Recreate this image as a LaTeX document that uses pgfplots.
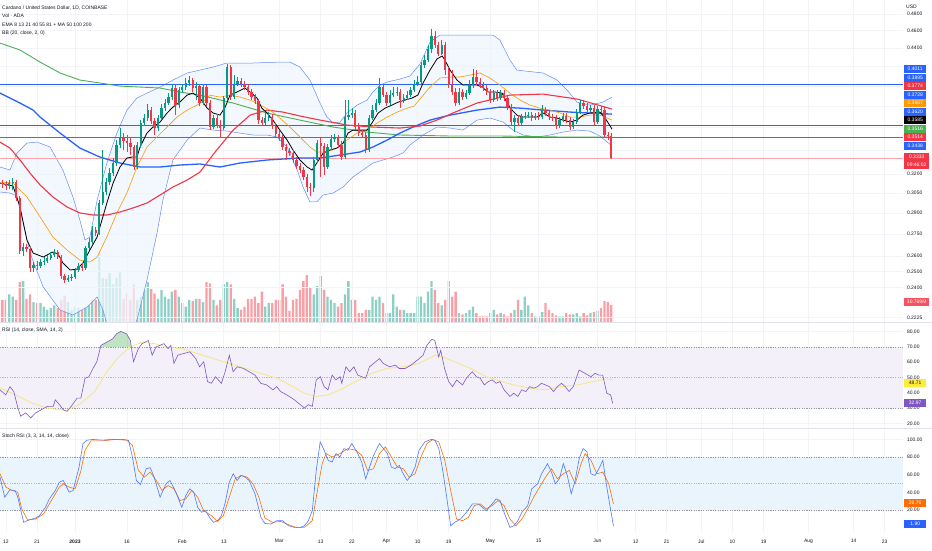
\documentclass[border=0pt]{standalone}
\usepackage{pgfplots}
\pgfplotsset{compat=1.18}
\usepackage{pgfplotstable}
\usepackage{fontspec}
\setmainfont{Liberation Sans}
\definecolor{cgreen}{RGB}{8,153,129}
\definecolor{cred}{RGB}{242,54,69}
\definecolor{vgreen}{RGB}{140,208,197}
\definecolor{vred}{RGB}{249,160,167}
\definecolor{hblue}{RGB}{41,98,255}
\definecolor{corange}{RGB}{255,152,0}
\definecolor{cgreenl}{RGB}{76,175,80}
\definecolor{bbline}{RGB}{100,140,245}
\definecolor{bbfill}{RGB}{238,245,253}
\definecolor{rsiline}{RGB}{126,87,194}
\definecolor{rsisma}{RGB}{245,230,130}
\definecolor{rsiband}{RGB}{243,240,250}
\definecolor{stband}{RGB}{233,244,253}
\definecolor{kblue}{RGB}{80,120,255}
\definecolor{dorange}{RGB}{255,109,0}
\definecolor{gridc}{RGB}{243,244,248}
\definecolor{dashc}{RGB}{150,153,160}
\definecolor{txtc}{RGB}{19,23,34}
\definecolor{sepc}{RGB}{224,227,235}
\definecolor{lblred}{RGB}{247,82,95}
\definecolor{lblyellow}{RGB}{255,235,59}
\newcommand{\sm}{\fontsize{5}{6}\selectfont}

\pgfplotstableread[row sep=\\]{
d o h l c v\\
-22 0.3144 0.3168 0.3097 0.3128 35\\
-21 0.3128 0.3152 0.3089 0.3120 40\\
-20 0.3120 0.3144 0.3073 0.3105 40\\
-19 0.3105 0.3152 0.3081 0.3128 50\\
-18 0.3128 0.3168 0.3073 0.3136 46\\
-17 0.3136 0.3152 0.2989 0.3012 40\\
-16 0.3012 0.3027 0.2614 0.2633 72\\
-15 0.2633 0.2688 0.2600 0.2660 74\\
-14 0.2660 0.2681 0.2627 0.2647 42\\
-13 0.2647 0.2660 0.2497 0.2523 50\\
-12 0.2523 0.2561 0.2497 0.2542 36\\
-11 0.2542 0.2567 0.2510 0.2536 34\\
-10 0.2536 0.2581 0.2523 0.2561 34\\
-9 0.2561 0.2594 0.2542 0.2567 28\\
-8 0.2567 0.2607 0.2555 0.2587 22\\
-7 0.2587 0.2627 0.2574 0.2607 25\\
-6 0.2607 0.2647 0.2594 0.2627 30\\
-5 0.2627 0.2640 0.2581 0.2594 25\\
-4 0.2594 0.2607 0.2453 0.2472 40\\
-3 0.2472 0.2485 0.2429 0.2447 48\\
-2 0.2447 0.2478 0.2435 0.2459 36\\
-1 0.2459 0.2485 0.2441 0.2466 22\\
0 0.2466 0.2523 0.2453 0.2510 28\\
1 0.2510 0.2555 0.2497 0.2536 25\\
2 0.2536 0.2555 0.2504 0.2523 22\\
3 0.2523 0.2667 0.2510 0.2654 26\\
4 0.2654 0.2722 0.2640 0.2695 30\\
5 0.2695 0.2806 0.2681 0.2777 40\\
6 0.2777 0.2799 0.2735 0.2756 40\\
7 0.2756 0.2997 0.2742 0.2974 125\\
8 0.2974 0.3401 0.2959 0.3058 80\\
9 0.3058 0.3168 0.3035 0.3136 78\\
10 0.3136 0.3250 0.3113 0.3208 88\\
11 0.3208 0.3333 0.3184 0.3291 68\\
12 0.3291 0.3488 0.3266 0.3444 80\\
13 0.3444 0.3596 0.3418 0.3515 90\\
14 0.3515 0.3550 0.3401 0.3479 42\\
15 0.3479 0.3533 0.3384 0.3462 52\\
16 0.3462 0.3506 0.3358 0.3427 40\\
17 0.3427 0.3444 0.3233 0.3258 68\\
18 0.3258 0.3470 0.3241 0.3444 40\\
19 0.3444 0.3669 0.3418 0.3641 45\\
20 0.3641 0.3725 0.3614 0.3688 58\\
21 0.3688 0.3821 0.3660 0.3763 72\\
22 0.3763 0.3792 0.3632 0.3660 60\\
23 0.3660 0.3688 0.3533 0.3596 52\\
24 0.3596 0.3716 0.3568 0.3688 42\\
25 0.3688 0.3821 0.3669 0.3782 58\\
26 0.3782 0.3870 0.3754 0.3831 46\\
27 0.3831 0.3929 0.3811 0.3889 42\\
28 0.3889 0.4019 0.3860 0.3979 55\\
29 0.3979 0.4009 0.3716 0.3811 58\\
30 0.3811 0.3989 0.3782 0.3959 46\\
31 0.3959 0.4019 0.3929 0.3989 34\\
32 0.3989 0.4081 0.3959 0.4030 28\\
33 0.4030 0.4102 0.3999 0.4060 40\\
34 0.4060 0.4081 0.3939 0.3979 38\\
35 0.3979 0.4040 0.3860 0.3999 42\\
36 0.3999 0.4019 0.3801 0.3831 42\\
37 0.3831 0.4019 0.3811 0.3989 36\\
38 0.3989 0.4009 0.3801 0.3831 72\\
39 0.3831 0.3860 0.3577 0.3605 70\\
40 0.3605 0.3716 0.3586 0.3688 40\\
41 0.3688 0.3725 0.3596 0.3623 30\\
42 0.3623 0.3669 0.3506 0.3596 40\\
43 0.3596 0.3899 0.3577 0.3880 68\\
44 0.3880 0.4228 0.3860 0.4196 72\\
45 0.4196 0.4217 0.3860 0.3889 68\\
46 0.3889 0.4112 0.3870 0.4019 42\\
47 0.4019 0.4091 0.3999 0.4050 25\\
48 0.4050 0.4081 0.3989 0.4019 22\\
49 0.4019 0.4050 0.3959 0.3989 28\\
50 0.3989 0.4019 0.3909 0.3939 42\\
51 0.3939 0.3969 0.3860 0.3889 42\\
52 0.3889 0.3919 0.3821 0.3850 46\\
53 0.3850 0.3870 0.3632 0.3669 34\\
54 0.3669 0.3697 0.3614 0.3641 55\\
55 0.3641 0.3735 0.3623 0.3688 28\\
56 0.3688 0.3744 0.3660 0.3697 34\\
57 0.3697 0.3725 0.3586 0.3614 34\\
58 0.3614 0.3641 0.3515 0.3541 40\\
59 0.3541 0.3577 0.3479 0.3506 40\\
60 0.3506 0.3533 0.3401 0.3427 68\\
61 0.3427 0.3453 0.3316 0.3392 46\\
62 0.3392 0.3418 0.3350 0.3375 20\\
63 0.3375 0.3401 0.3291 0.3316 40\\
64 0.3316 0.3341 0.3241 0.3266 42\\
65 0.3266 0.3291 0.3208 0.3233 58\\
66 0.3233 0.3258 0.3152 0.3176 74\\
67 0.3176 0.3200 0.3058 0.3097 85\\
68 0.3097 0.3128 0.3027 0.3089 62\\
69 0.3089 0.3341 0.3058 0.3316 50\\
70 0.3316 0.3488 0.3291 0.3462 65\\
71 0.3462 0.3506 0.3176 0.3435 83\\
72 0.3435 0.3462 0.3192 0.3258 58\\
73 0.3258 0.3453 0.3241 0.3427 46\\
74 0.3427 0.3533 0.3401 0.3497 40\\
75 0.3497 0.3541 0.3470 0.3506 34\\
76 0.3506 0.3533 0.3418 0.3444 28\\
77 0.3444 0.3479 0.3316 0.3341 34\\
78 0.3341 0.3860 0.3325 0.3697 50\\
79 0.3697 0.3860 0.3669 0.3716 74\\
80 0.3716 0.3782 0.3688 0.3735 40\\
81 0.3735 0.3763 0.3577 0.3605 40\\
82 0.3605 0.3641 0.3524 0.3550 16\\
83 0.3550 0.3577 0.3506 0.3533 16\\
84 0.3533 0.3559 0.3375 0.3401 22\\
85 0.3401 0.3716 0.3384 0.3688 22\\
86 0.3688 0.3811 0.3669 0.3763 46\\
87 0.3763 0.3870 0.3744 0.3831 40\\
88 0.3831 0.4081 0.3811 0.3989 46\\
89 0.3989 0.4019 0.3889 0.3909 34\\
90 0.3909 0.3939 0.3801 0.3831 16\\
91 0.3831 0.3959 0.3811 0.3909 16\\
92 0.3909 0.3989 0.3889 0.3929 50\\
93 0.3929 0.3989 0.3899 0.3939 28\\
94 0.3939 0.3969 0.3782 0.3860 22\\
95 0.3860 0.3919 0.3831 0.3880 22\\
96 0.3880 0.3949 0.3860 0.3909 16\\
97 0.3909 0.3989 0.3889 0.3959 16\\
98 0.3959 0.4060 0.3939 0.4019 16\\
99 0.4019 0.4102 0.3999 0.4040 46\\
100 0.4040 0.4249 0.4019 0.4217 46\\
101 0.4217 0.4326 0.4185 0.4271 34\\
102 0.4271 0.4436 0.4249 0.4391 55\\
103 0.4391 0.4620 0.4348 0.4539 74\\
104 0.4539 0.4596 0.4402 0.4436 58\\
105 0.4436 0.4470 0.4315 0.4337 34\\
106 0.4337 0.4493 0.4326 0.4436 30\\
107 0.4436 0.4470 0.4112 0.4164 40\\
108 0.4164 0.4196 0.3979 0.4009 74\\
109 0.4009 0.4164 0.3909 0.3939 46\\
110 0.3939 0.3979 0.3801 0.3831 55\\
111 0.3831 0.3979 0.3811 0.3939 16\\
112 0.3939 0.3969 0.3860 0.3889 14\\
113 0.3889 0.3959 0.3870 0.3929 16\\
114 0.3929 0.4060 0.3909 0.4009 22\\
115 0.4009 0.4174 0.3979 0.4091 28\\
116 0.4091 0.4164 0.4009 0.4040 16\\
117 0.4040 0.4081 0.3979 0.4009 10\\
118 0.4009 0.4040 0.3949 0.3979 10\\
119 0.3979 0.4009 0.3909 0.3939 10\\
120 0.3939 0.3969 0.3831 0.3860 16\\
121 0.3860 0.3959 0.3840 0.3929 22\\
122 0.3929 0.3959 0.3850 0.3880 14\\
123 0.3880 0.3959 0.3860 0.3929 16\\
124 0.3929 0.3959 0.3850 0.3880 14\\
125 0.3880 0.3909 0.3763 0.3792 10\\
126 0.3792 0.3821 0.3614 0.3651 16\\
127 0.3651 0.3716 0.3559 0.3688 22\\
128 0.3688 0.3716 0.3614 0.3641 40\\
129 0.3641 0.3725 0.3614 0.3697 22\\
130 0.3697 0.3744 0.3678 0.3707 46\\
131 0.3707 0.3744 0.3688 0.3716 30\\
132 0.3716 0.3744 0.3660 0.3688 16\\
133 0.3688 0.3735 0.3669 0.3707 10\\
134 0.3707 0.3744 0.3669 0.3697 10\\
135 0.3697 0.3811 0.3678 0.3763 18\\
136 0.3763 0.3792 0.3707 0.3735 34\\
137 0.3735 0.3763 0.3669 0.3697 22\\
138 0.3697 0.3725 0.3660 0.3688 16\\
139 0.3688 0.3716 0.3586 0.3614 12\\
140 0.3614 0.3697 0.3596 0.3669 10\\
141 0.3669 0.3735 0.3651 0.3707 10\\
142 0.3707 0.3735 0.3641 0.3669 16\\
143 0.3669 0.3697 0.3577 0.3605 14\\
144 0.3605 0.3678 0.3586 0.3651 14\\
145 0.3651 0.3773 0.3632 0.3744 16\\
146 0.3744 0.3860 0.3725 0.3831 10\\
147 0.3831 0.3860 0.3773 0.3801 16\\
148 0.3801 0.3831 0.3735 0.3763 12\\
149 0.3763 0.3811 0.3744 0.3782 16\\
150 0.3782 0.3811 0.3623 0.3651 18\\
151 0.3651 0.3801 0.3632 0.3773 20\\
152 0.3773 0.3801 0.3735 0.3763 25\\
153 0.3763 0.3792 0.3515 0.3533 38\\
154 0.3533 0.3559 0.3488 0.3524 36\\
155 0.3524 0.3550 0.3325 0.3333 30.77\\
}\ohlc

\pgfplotstableread[row sep=\\]{
d p\\
-21.7 0.3128\\ -17.9 0.3105\\ -15.9 0.2944\\ -13.9 0.2708\\ -12.1 0.2620\\ -9.2 0.2594\\
-6.4 0.2627\\ -4.9 0.2614\\ -3.5 0.2555\\ -1.4 0.2510\\ 0.6 0.2516\\ 2.3 0.2555\\
4.3 0.2640\\ 6.4 0.2729\\ 7.2 0.2799\\ 9.2 0.2974\\ 11.0 0.3128\\ 13.0 0.3258\\
15.0 0.3333\\ 16.5 0.3341\\ 17.9 0.3341\\ 18.8 0.3427\\ 20.8 0.3550\\ 22.5 0.3605\\
24.6 0.3651\\ 26.6 0.3735\\ 28.3 0.3792\\ 30.3 0.3840\\ 32.4 0.3909\\ 34.1 0.3929\\
36.1 0.3880\\ 38.2 0.3782\\ 39.9 0.3735\\ 41.9 0.3716\\ 43.4 0.3792\\ 44.8 0.3909\\
46.8 0.3939\\ 49.1 0.3979\\ 50.6 0.3939\\ 52.6 0.3880\\ 54.0 0.3782\\ 55.5 0.3735\\
57.2 0.3669\\ 59.2 0.3577\\ 61.3 0.3488\\ 63.0 0.3401\\ 65.0 0.3316\\ 67.1 0.3258\\
68.5 0.3233\\ 69.9 0.3291\\ 71.7 0.3375\\ 73.7 0.3401\\ 75.7 0.3418\\ 77.5 0.3462\\
78.9 0.3550\\ 80.3 0.3577\\ 82.4 0.3577\\ 84.4 0.3577\\ 85.8 0.3641\\ 87.6 0.3735\\
89.6 0.3782\\ 91.6 0.3811\\ 93.4 0.3840\\ 95.4 0.3860\\ 97.4 0.3880\\ 99.1 0.3909\\
100.6 0.4030\\ 102.6 0.4164\\ 104.6 0.4282\\ 106.1 0.4315\\ 106.9 0.4271\\ 108.4 0.4164\\
110.4 0.4060\\ 112.1 0.4009\\ 114.2 0.4009\\ 116.2 0.4009\\ 117.6 0.3989\\ 119.4 0.3939\\
121.4 0.3939\\ 123.4 0.3929\\ 124.9 0.3831\\ 126.3 0.3763\\ 127.7 0.3716\\ 129.5 0.3697\\
131.5 0.3697\\ 133.5 0.3697\\ 135.3 0.3735\\ 137.3 0.3697\\ 139.3 0.3688\\ 141.0 0.3669\\
143.1 0.3651\\ 145.1 0.3669\\ 146.8 0.3716\\ 148.8 0.3735\\ 151.7 0.3744\\ 153.2 0.3688\\
154.3 0.3632\\ 155.2 0.3586\\
}\blk

\pgfplotstableread[row sep=\\]{
d p\\
-21.7 0.3136\\ -17.9 0.3128\\ -13.9 0.3020\\ -10.1 0.2871\\ -6.4 0.2729\\ -2.3 0.2640\\
1.4 0.2574\\ 4.3 0.2561\\ 6.4 0.2594\\ 9.2 0.2729\\ 12.1 0.2900\\ 15.0 0.3050\\
17.9 0.3258\\ 20.8 0.3427\\ 23.7 0.3515\\ 26.6 0.3605\\ 29.5 0.3697\\ 32.4 0.3763\\
35.3 0.3811\\ 37.6 0.3860\\ 39.0 0.3909\\ 41.9 0.3889\\ 44.8 0.3909\\ 47.7 0.3889\\
50.6 0.3860\\ 53.5 0.3811\\ 56.4 0.3763\\ 59.2 0.3688\\ 62.1 0.3605\\ 65.0 0.3515\\
67.9 0.3427\\ 69.9 0.3384\\ 72.8 0.3384\\ 75.7 0.3418\\ 78.6 0.3488\\ 81.5 0.3550\\
84.4 0.3577\\ 87.3 0.3641\\ 90.2 0.3697\\ 93.1 0.3744\\ 96.0 0.3782\\ 98.0 0.3801\\
99.7 0.3870\\ 102.6 0.3989\\ 105.5 0.4081\\ 108.4 0.4091\\ 111.3 0.4091\\ 114.2 0.4112\\
117.1 0.4133\\ 119.9 0.4081\\ 122.8 0.4009\\ 125.7 0.3929\\ 128.6 0.3860\\ 131.5 0.3811\\
134.4 0.3782\\ 137.3 0.3763\\ 140.2 0.3735\\ 143.1 0.3697\\ 146.0 0.3697\\ 148.8 0.3716\\
151.7 0.3716\\ 155.2 0.3669\\
}\org

\pgfplotstableread[row sep=\\]{
d p\\
-21.7 0.3470\\ -18.8 0.3418\\ -15.9 0.3316\\ -13.0 0.3208\\ -10.1 0.3113\\ -6.4 0.3020\\
-2.3 0.2944\\ 1.4 0.2900\\ 5.2 0.2885\\ 9.2 0.2885\\ 13.0 0.2907\\ 16.8 0.2937\\
20.8 0.2974\\ 24.6 0.3035\\ 28.3 0.3097\\ 32.4 0.3152\\ 36.1 0.3216\\ 40.5 0.3384\\
45.7 0.3577\\ 50.6 0.3716\\ 55.5 0.3763\\ 60.1 0.3744\\ 65.0 0.3707\\ 70.8 0.3669\\
78.6 0.3623\\ 86.1 0.3605\\ 93.9 0.3596\\ 99.7 0.3614\\ 104.6 0.3669\\ 109.2 0.3735\\
116.2 0.3831\\ 125.7 0.3909\\ 135.3 0.3919\\ 145.1 0.3870\\ 155.2 0.3773\\
}\redl

\pgfplotstableread[row sep=\\]{
d p\\
-21.7 0.3929\\ -15.9 0.3831\\ -12.1 0.3763\\ -10.1 0.3697\\ -4.3 0.3550\\ 1.4 0.3418\\
7.2 0.3341\\ 13.0 0.3291\\ 18.8 0.3258\\ 24.6 0.3258\\ 30.3 0.3274\\ 36.1 0.3283\\
41.9 0.3258\\ 47.7 0.3291\\ 55.5 0.3316\\ 65.0 0.3333\\ 70.8 0.3333\\ 76.6 0.3358\\
82.4 0.3384\\ 86.1 0.3427\\ 90.2 0.3488\\ 93.9 0.3550\\ 97.7 0.3605\\ 102.6 0.3669\\
108.4 0.3716\\ 116.2 0.3763\\ 122.8 0.3792\\ 128.6 0.3782\\ 135.3 0.3763\\ 143.1 0.3744\\
148.8 0.3735\\ 155.2 0.3725\\
}\bluel

\pgfplotstableread[row sep=\\]{
d p\\
-21.7 0.4459\\ -15.9 0.4381\\ -10.1 0.4249\\ -4.3 0.4133\\ 1.4 0.4060\\ 7.2 0.4030\\
13.0 0.3999\\ 18.8 0.3989\\ 24.6 0.3979\\ 30.3 0.3939\\ 36.1 0.3909\\ 45.7 0.3831\\
55.5 0.3735\\ 65.0 0.3669\\ 74.6 0.3605\\ 84.4 0.3559\\ 93.9 0.3533\\ 108.4 0.3524\\
122.8 0.3524\\ 140.2 0.3515\\ 155.2 0.3515\\
}\grnl

\pgfplotstableread[row sep=\\]{
d p\\
-21.7 0.3258\\ -18.8 0.3233\\ -16.8 0.3375\\ -13.9 0.3462\\ -11.0 0.3470\\ -7.2 0.3427\\
-3.5 0.3233\\ -0.6 0.3020\\ 1.4 0.2849\\ 2.9 0.2708\\ 4.3 0.2729\\ 6.4 0.2997\\
9.2 0.3291\\ 12.1 0.3550\\ 15.0 0.3763\\ 17.9 0.3880\\ 20.8 0.3929\\ 24.6 0.3989\\
28.3 0.4060\\ 32.4 0.4133\\ 36.1 0.4164\\ 39.9 0.4196\\ 43.9 0.4239\\ 51.4 0.4239\\
59.2 0.4249\\ 62.1 0.4249\\ 65.0 0.4196\\ 67.9 0.4060\\ 70.8 0.3831\\ 72.8 0.3697\\
74.6 0.3641\\ 76.6 0.3651\\ 78.6 0.3735\\ 81.5 0.3811\\ 84.4 0.3860\\ 86.1 0.3939\\
88.2 0.4009\\ 90.2 0.4040\\ 93.9 0.4070\\ 96.8 0.4102\\ 99.7 0.4228\\ 102.6 0.4470\\
105.5 0.4550\\ 120.8 0.4550\\ 122.8 0.4493\\ 125.7 0.4271\\ 127.7 0.4164\\ 135.3 0.4133\\
139.3 0.4060\\ 142.2 0.3959\\ 145.1 0.3840\\ 148.8 0.3811\\ 152.6 0.3840\\ 155.2 0.3889\\
}\bbu

\pgfplotstableread[row sep=\\]{
d p\\
-21.7 0.3058\\ -18.8 0.3050\\ -16.8 0.3027\\ -13.0 0.2620\\ -9.2 0.2404\\ -4.3 0.2268\\
-0.6 0.2240\\ 3.5 0.2285\\ 6.4 0.2344\\ 8.1 0.2268\\ 10.1 0.2129\\ 13.0 0.2076\\
15.9 0.2129\\ 17.9 0.2211\\ 20.8 0.2447\\ 23.7 0.2756\\ 25.4 0.2997\\ 28.3 0.3316\\
32.4 0.3488\\ 36.1 0.3596\\ 39.9 0.3577\\ 43.9 0.3568\\ 47.7 0.3550\\ 51.4 0.3533\\
55.5 0.3533\\ 58.4 0.3515\\ 61.3 0.3427\\ 64.2 0.3233\\ 65.9 0.3097\\ 67.9 0.2982\\
69.9 0.2982\\ 71.7 0.3035\\ 74.6 0.3050\\ 77.5 0.3097\\ 80.3 0.3176\\ 83.2 0.3233\\
86.1 0.3291\\ 89.0 0.3316\\ 91.9 0.3341\\ 94.8 0.3375\\ 96.8 0.3444\\ 100.6 0.3533\\
104.6 0.3605\\ 108.4 0.3596\\ 112.1 0.3577\\ 116.2 0.3669\\ 119.9 0.3688\\ 123.7 0.3651\\
126.6 0.3577\\ 129.5 0.3533\\ 133.5 0.3515\\ 137.3 0.3533\\ 141.0 0.3559\\ 145.1 0.3577\\
148.8 0.3568\\ 151.7 0.3524\\ 155.2 0.3435\\
}\bbl

% Bollinger band area outline: upper band forward, lower band back
\pgfplotstableread[row sep=\\]{
d p\\
-21.7 0.3258\\ -18.8 0.3233\\ -16.8 0.3375\\ -13.9 0.3462\\ -11.0 0.3470\\ -7.2 0.3427\\
-3.5 0.3233\\ -0.6 0.3020\\ 1.4 0.2849\\ 2.9 0.2708\\ 4.3 0.2729\\ 6.4 0.2997\\
9.2 0.3291\\ 12.1 0.3550\\ 15.0 0.3763\\ 17.9 0.3880\\ 20.8 0.3929\\ 24.6 0.3989\\
28.3 0.4060\\ 32.4 0.4133\\ 36.1 0.4164\\ 39.9 0.4196\\ 43.9 0.4239\\ 51.4 0.4239\\
59.2 0.4249\\ 62.1 0.4249\\ 65.0 0.4196\\ 67.9 0.4060\\ 70.8 0.3831\\ 72.8 0.3697\\
74.6 0.3641\\ 76.6 0.3651\\ 78.6 0.3735\\ 81.5 0.3811\\ 84.4 0.3860\\ 86.1 0.3939\\
88.2 0.4009\\ 90.2 0.4040\\ 93.9 0.4070\\ 96.8 0.4102\\ 99.7 0.4228\\ 102.6 0.4470\\
105.5 0.4550\\ 120.8 0.4550\\ 122.8 0.4493\\ 125.7 0.4271\\ 127.7 0.4164\\ 135.3 0.4133\\
139.3 0.4060\\ 142.2 0.3959\\ 145.1 0.3840\\ 148.8 0.3811\\ 152.6 0.3840\\ 155.2 0.3889\\
155.2 0.3435\\ 151.7 0.3524\\ 148.8 0.3568\\ 145.1 0.3577\\ 141.0 0.3559\\ 137.3 0.3533\\
133.5 0.3515\\ 129.5 0.3533\\ 126.6 0.3577\\ 123.7 0.3651\\ 119.9 0.3688\\ 116.2 0.3669\\
112.1 0.3577\\ 108.4 0.3596\\ 104.6 0.3605\\ 100.6 0.3533\\ 96.8 0.3444\\ 94.8 0.3375\\
91.9 0.3341\\ 89.0 0.3316\\ 86.1 0.3291\\ 83.2 0.3233\\ 80.3 0.3176\\ 77.5 0.3097\\
74.6 0.3050\\ 71.7 0.3035\\ 69.9 0.2982\\ 67.9 0.2982\\ 65.9 0.3097\\ 64.2 0.3233\\
61.3 0.3427\\ 58.4 0.3515\\ 55.5 0.3533\\ 51.4 0.3533\\ 47.7 0.3550\\ 43.9 0.3568\\
39.9 0.3577\\ 36.1 0.3596\\ 32.4 0.3488\\ 28.3 0.3316\\ 25.4 0.2997\\ 23.7 0.2756\\
20.8 0.2447\\ 17.9 0.2211\\ 15.9 0.2129\\ 13.0 0.2076\\ 10.1 0.2129\\ 8.1 0.2268\\
6.4 0.2344\\ 3.5 0.2285\\ -0.6 0.2240\\ -4.3 0.2268\\ -9.2 0.2404\\ -13.0 0.2620\\
-16.8 0.3027\\ -18.8 0.3050\\ -21.7 0.3058\\
}\bbarea

\pgfplotstableread[row sep=\\]{
d p\\
-21.68 0.4011\\ 239.3 0.4011\\
}\lvA
\pgfplotstableread[row sep=\\]{
d p\\
-21.68 0.3620\\ 239.3 0.3620\\
}\lvB
\pgfplotstableread[row sep=\\]{
d p\\
-21.68 0.3514\\ 239.3 0.3514\\
}\lvC
\pgfplotstableread[row sep=\\]{
d p\\
-21.68 0.3333\\ 239.3 0.3333\\
}\lvD

\pgfplotstableread[row sep=\\]{
d v\\
-21.7 41.9\\ -20.0 38.6\\ -18.8 44.0\\ -17.7 40.8\\ -16.5 30.0\\ -15.7 24.6\\ -14.3 26.8\\
-12.8 23.5\\ -11.4 26.8\\ -9.7 28.9\\ -8.0 31.1\\ -6.3 31.1\\ -5.7 35.4\\ -4.5 32.2\\
-3.4 28.9\\ -2.3 27.8\\ -1.1 31.1\\ 0.6 36.5\\ 1.7 36.5\\ 2.9 49.5\\ 4.0 50.5\\ 5.2 55.9\\
6.3 60.3\\ 7.5 71.1\\ 9.2 73.2\\ 10.9 75.4\\ 12.0 78.6\\ 13.2 80.2\\ 14.9 78.6\\ 16.0 74.3\\
16.9 60.3\\ 18.3 68.9\\ 19.4 72.2\\ 21.2 74.3\\ 22.3 64.6\\ 23.4 70.0\\ 24.6 71.1\\
25.7 72.2\\ 26.9 68.9\\ 27.7 71.1\\ 28.6 59.2\\ 29.7 64.6\\ 31.4 65.7\\ 33.2 66.8\\
34.9 62.4\\ 36.0 57.0\\ 37.2 60.3\\ 38.3 47.3\\ 39.4 46.2\\ 40.6 50.5\\ 42.3 46.2\\
43.4 53.8\\ 44.6 64.6\\ 45.7 53.8\\ 46.9 57.0\\ 48.6 56.0\\ 50.3 53.8\\ 52.0 51.6\\
53.7 46.2\\ 55.4 45.1\\ 57.2 41.9\\ 58.3 44.0\\ 59.4 40.8\\ 61.2 38.6\\ 63.4 35.4\\
65.1 32.2\\ 66.3 30.0\\ 67.4 32.2\\ 68.6 31.1\\ 69.7 48.4\\ 70.9 50.5\\ 72.0 44.0\\
73.1 41.9\\ 74.3 51.6\\ 75.4 48.4\\ 76.6 50.5\\ 77.1 46.2\\ 78.3 57.0\\ 79.4 53.8\\
80.6 57.0\\ 81.7 51.6\\ 82.9 50.5\\ 84.0 49.5\\ 85.1 57.0\\ 86.3 59.2\\ 88.0 62.4\\
89.1 59.2\\ 90.9 57.0\\ 92.6 58.1\\ 93.7 55.9\\ 95.4 55.9\\ 97.1 58.1\\ 98.9 61.3\\
100.6 64.6\\ 101.7 71.1\\ 103.1 75.0\\ 104.0 74.3\\ 105.1 63.5\\ 105.7 67.8\\ 106.8 55.9\\
108.0 47.3\\ 109.1 44.0\\ 110.3 48.4\\ 112.0 45.1\\ 113.1 49.5\\ 114.8 53.8\\ 116.0 50.5\\
117.1 49.5\\ 118.3 45.1\\ 119.4 47.3\\ 120.6 48.4\\ 121.7 46.2\\ 122.8 47.3\\ 124.0 41.9\\
125.7 37.6\\ 126.8 39.7\\ 128.0 37.6\\ 129.1 41.9\\ 130.3 40.8\\ 131.4 44.0\\ 132.6 43.0\\
133.7 44.0\\ 134.8 46.2\\ 136.0 45.1\\ 137.1 44.0\\ 138.3 40.8\\ 139.4 44.0\\ 140.6 46.2\\
141.7 44.0\\ 142.8 40.8\\ 144.0 44.0\\ 145.7 54.9\\ 147.4 52.7\\ 149.1 50.5\\ 150.3 52.7\\
151.4 51.6\\ 152.5 51.6\\ 153.7 39.7\\ 154.8 38.6\\ 155.4 32.97\\
}\rsi

% overbought area of RSI (above 70)
\pgfplotstableread[row sep=\\]{
d v\\
7.4 70\\ 7.5 71.1\\ 9.2 73.2\\ 10.9 75.4\\ 12.0 78.6\\ 13.2 80.2\\ 14.9 78.6\\ 16.0 74.3\\ 16.3 70\\
}\rsiob

\pgfplotstableread[row sep=\\]{
d v\\
-21.7 43.0\\ -17.1 38.6\\ -12.5 33.2\\ -8.0 30.0\\ -2.8 28.3\\ 1.2 32.2\\ 5.7 40.8\\
9.2 53.8\\ 12.6 63.5\\ 16.0 70.0\\ 19.4 73.2\\ 22.9 72.2\\ 26.3 70.0\\ 30.9 68.9\\
35.4 65.7\\ 40.0 62.4\\ 44.6 59.2\\ 49.2 56.0\\ 53.7 52.7\\ 58.3 49.5\\ 62.9 44.1\\
66.3 39.7\\ 69.7 37.6\\ 73.1 38.6\\ 76.6 41.9\\ 81.1 47.3\\ 85.7 52.7\\ 90.3 56.0\\
94.9 57.0\\ 99.4 59.2\\ 104.0 64.6\\ 106.3 63.5\\ 109.7 60.3\\ 114.3 56.0\\ 118.8 50.5\\
123.4 47.3\\ 126.8 45.1\\ 131.4 43.0\\ 136.0 41.9\\ 140.6 44.1\\ 145.1 45.1\\ 149.7 47.3\\
153.1 48.9\\ 155.4 48.71\\
}\rsisma

\pgfplotstableread[row sep=\\]{
d v\\
-21.68 57.2\\ -20.31 34.5\\ -18.82 42.8\\ -17.34 42.1\\ -16.54 34.5\\ -14.83 6.0\\
-13.45 8.6\\ -11.40 10.9\\ -10.26 13.6\\ -8.54 23.1\\ -7.40 32.6\\ -5.69 42.1\\
-4.54 51.5\\ -3.40 53.4\\ -1.69 40.2\\ -0.54 42.1\\ 1.17 68.6\\ 2.31 95.2\\ 3.46 99.0\\
5.17 99.8\\ 8.03 99.0\\ 10.88 100\\ 13.74 99.8\\ 15.45 99.0\\ 16.59 80.0\\ 17.74 53.4\\
18.88 48.9\\ 20.59 66.7\\ 21.74 67.9\\ 22.88 57.2\\ 24.59 34.5\\ 26.30 49.6\\ 27.45 53.4\\
29.16 40.2\\ 30.87 23.1\\ 32.02 36.4\\ 33.16 43.9\\ 34.30 40.2\\ 35.45 23.1\\ 36.59 17.4\\
37.73 19.3\\ 38.87 11.7\\ 40.02 6.0\\ 41.16 7.9\\ 42.30 13.6\\ 43.44 28.8\\ 44.59 51.5\\
45.73 61.0\\ 46.87 53.4\\ 48.01 59.1\\ 49.16 57.2\\ 50.30 53.4\\ 52.01 38.3\\ 53.73 11.7\\
54.87 4.8\\ 56.58 4.1\\ 58.30 7.9\\ 60.01 7.9\\ 61.72 2.2\\ 63.43 0.3\\ 65.15 0.3\\
66.29 2.2\\ 67.44 7.9\\ 68.58 19.3\\ 69.72 64.8\\ 70.86 97.1\\ 72.01 87.6\\ 73.15 76.2\\
74.29 74.3\\ 75.43 83.8\\ 76.58 80.0\\ 77.72 89.5\\ 78.86 87.6\\ 80.00 95.2\\ 81.72 83.8\\
82.86 74.3\\ 84.00 55.3\\ 85.14 68.6\\ 86.29 81.9\\ 88.00 95.2\\ 89.14 89.5\\ 90.29 83.8\\
91.43 68.6\\ 92.57 66.7\\ 93.71 70.5\\ 94.86 61.0\\ 96.00 53.4\\ 97.14 59.1\\ 98.28 68.6\\
99.43 87.6\\ 101.14 97.1\\ 102.85 99.8\\ 104.00 99.0\\ 105.14 89.5\\ 106.28 64.8\\
107.42 34.5\\ 108.57 2.2\\ 109.71 6.0\\ 111.42 9.8\\ 113.14 17.4\\ 114.85 26.9\\
116.56 26.9\\ 117.70 23.1\\ 118.85 19.3\\ 120.56 26.9\\ 121.70 32.6\\ 122.84 30.7\\
123.99 17.4\\ 125.70 0.3\\ 126.85 2.2\\ 127.99 7.9\\ 129.13 17.4\\ 130.84 25.0\\
131.99 43.9\\ 133.70 49.6\\ 134.84 61.0\\ 136.56 72.4\\ 137.70 62.9\\ 138.84 49.6\\
139.98 55.3\\ 141.13 72.4\\ 142.27 59.1\\ 143.41 38.3\\ 144.55 53.4\\ 145.70 78.1\\
146.84 89.5\\ 147.98 85.7\\ 149.12 61.0\\ 150.27 59.1\\ 151.41 66.7\\ 152.55 76.2\\
153.69 45.9\\ 154.84 19.3\\ 155.63 1.9\\
}\stk

\pgfplotstableread[row sep=\\]{
d v\\
-21.68 61.0\\ -19.97 45.9\\ -18.25 42.1\\ -16.54 40.2\\ -15.40 21.2\\ -13.68 8.6\\
-11.40 9.8\\ -9.11 15.5\\ -6.83 30.7\\ -4.54 45.9\\ -3.40 49.6\\ -1.69 45.9\\ 0.03 43.9\\
1.74 64.8\\ 2.88 87.6\\ 4.60 98.2\\ 8.03 98.2\\ 11.45 99.8\\ 14.88 99.0\\ 16.59 93.3\\
18.31 64.8\\ 20.02 57.2\\ 21.74 62.9\\ 23.45 53.4\\ 25.16 42.1\\ 26.88 47.7\\ 28.59 43.9\\
30.30 30.7\\ 32.02 32.6\\ 33.73 42.1\\ 35.45 34.5\\ 37.16 19.3\\ 39.44 13.6\\ 41.16 7.1\\
42.87 13.6\\ 44.59 34.5\\ 46.30 55.3\\ 48.01 59.1\\ 49.73 57.2\\ 51.44 49.6\\ 53.15 34.5\\
54.87 10.9\\ 57.15 6.0\\ 59.44 7.1\\ 61.72 3.3\\ 64.01 0.3\\ 66.29 0.3\\ 68.58 7.9\\
69.72 34.5\\ 71.43 72.4\\ 72.57 83.8\\ 74.29 80.0\\ 76.58 83.8\\ 78.86 89.5\\ 81.15 87.6\\
82.86 81.9\\ 84.57 64.8\\ 86.29 66.7\\ 88.00 83.8\\ 89.71 91.4\\ 91.43 80.0\\ 93.14 68.6\\
94.86 66.7\\ 96.57 57.2\\ 98.28 61.0\\ 100.00 80.0\\ 101.71 95.2\\ 103.42 99.8\\
105.14 97.1\\ 106.85 76.2\\ 108.57 42.1\\ 110.28 9.8\\ 111.99 7.9\\ 113.71 11.7\\
115.42 25.0\\ 117.13 26.9\\ 118.85 21.2\\ 120.56 25.0\\ 122.28 30.7\\ 123.99 25.0\\
125.70 9.8\\ 127.42 2.2\\ 129.13 9.8\\ 130.84 21.2\\ 132.56 34.5\\ 134.27 45.9\\
135.99 57.2\\ 137.70 66.7\\ 139.41 55.3\\ 141.13 61.0\\ 142.84 64.8\\ 144.55 49.6\\
146.27 72.4\\ 147.41 83.8\\ 149.12 76.2\\ 150.84 61.0\\ 152.55 62.9\\ 154.26 49.6\\
155.63 26.76\\
}\std

\pgfplotsset{
  tvpanel/.style={
    scale only axis, width=903pt, xmin=-21.68, xmax=239.3,
    anchor=north west, axis line style={draw=none},
    major tick length=0pt, minor tick length=0pt,
    xtick={-20,-11,0,15,31,43,59,71,80,90,99,108,120,134,151,162,171,181,190,199,212,225,234},
    xmajorgrids, ymajorgrids,
    major grid style={draw=gridc, line width=0.6pt},
    tick label style={font=\sm, text=txtc},
    yticklabel pos=right,
    yticklabel style={anchor=west, xshift=0.5pt},
    every axis plot/.append style={mark=none},
    clip=true
  },
  upc/.style={restrict expr to domain={\thisrow{c}-\thisrow{o}}{0:1}},
  dnc/.style={restrict expr to domain={\thisrow{c}-\thisrow{o}}{-1:-0.00001}}
}

\begin{document}
\begin{tikzpicture}
\path[use as bounding box] (0pt,0pt) rectangle (932pt,-550pt);

% ---------- volume (behind) ----------
\begin{axis}[tvpanel, at={(0pt,0pt)}, height=322pt, ymin=0, ymax=583, hide axis]
\addplot[ybar, bar width=2.3pt, bar shift=0pt, draw=none, fill=vgreen, upc]
  table[x=d, y=v] \ohlc;
\addplot[ybar, bar width=2.3pt, bar shift=0pt, draw=none, fill=vred, dnc]
  table[x=d, y=v] \ohlc;
\end{axis}

% ---------- price panel (log price scale: y = ln(price)) ----------
\begin{axis}[tvpanel, at={(0pt,0pt)}, height=322pt, ymin=-1.51399, ymax=-0.69876,
  xticklabels={},
  ytick={-1.50282,-1.42712,-1.38629,-1.34707,-1.29098,-1.23787,-1.18744,-1.13943,-1.07881,-1.02165,-0.96758,-0.91629,-0.86750,-0.82098,-0.77653,-0.73397},
  yticklabels={0.2225,0.2400,0.2500,0.2600,0.2750,0.2900,0.3050,0.3200,,,,,,0.4400,0.4600,0.4800}]
% Bollinger band area and lines
\addplot[draw=none, fill=bbfill, fill opacity=0.75] table[x=d, y expr=ln(\thisrow{p})] \bbarea;
\addplot[bbline, line width=0.5pt] table[x=d, y expr=ln(\thisrow{p})] \bbu;
\addplot[bbline, line width=0.5pt] table[x=d, y expr=ln(\thisrow{p})] \bbl;
% horizontal levels
\addplot[cred!45, line width=0.5pt] table[x=d, y expr=ln(\thisrow{p})] \lvD;
\addplot[hblue, line width=0.9pt] table[x=d, y expr=ln(\thisrow{p})] \lvA;
\addplot[hblue, line width=0.9pt] table[x=d, y expr=ln(\thisrow{p})] \lvB;
\addplot[cred, line width=0.9pt] table[x=d, y expr=ln(\thisrow{p})] \lvC;
% moving averages
\addplot[cgreenl, line width=0.9pt] table[x=d, y expr=ln(\thisrow{p})] \grnl;
\addplot[hblue, line width=1.3pt] table[x=d, y expr=ln(\thisrow{p})] \bluel;
\addplot[cred, line width=1.1pt] table[x=d, y expr=ln(\thisrow{p})] \redl;
\addplot[corange, line width=0.6pt] table[x=d, y expr=ln(\thisrow{p})] \org;
\addplot[black, line width=0.8pt] table[x=d, y expr=ln(\thisrow{p})] \blk;
% candles: wicks (low to high)
\addplot[cgreen, line width=0.6pt, upc, quiver={u=0, v={ln(\thisrow{h})-ln(\thisrow{l})}}]
  table[x=d, y expr=ln(\thisrow{l})] \ohlc;
\addplot[cred, line width=0.6pt, dnc, quiver={u=0, v={ln(\thisrow{h})-ln(\thisrow{l})}}]
  table[x=d, y expr=ln(\thisrow{l})] \ohlc;
% candles: bodies (open to close)
\addplot[cgreen, line width=2.3pt, upc, quiver={u=0, v={ln(\thisrow{c})-ln(\thisrow{o})}}]
  table[x=d, y expr=ln(\thisrow{o})] \ohlc;
\addplot[cred, line width=2.3pt, dnc, quiver={u=0, v={ln(\thisrow{c})-ln(\thisrow{o})}}]
  table[x=d, y expr=ln(\thisrow{o})] \ohlc;
\end{axis}

% ---------- RSI panel ----------
\begin{axis}[tvpanel, at={(0pt,-323pt)}, height=105pt, ymin=16.9, ymax=85.7,
  xticklabels={}, ytick={20,30,40,50,60,70,80},
  yticklabels={20.00,30.00,40.00,50.00,60.00,70.00,80.00}]
\addplot[draw=none, fill=rsiband] coordinates {(-21.68,30) (239.3,30) (239.3,70) (-21.68,70)};
\addplot[dashc, line width=0.5pt, dash pattern=on 1.2pt off 1.2pt] coordinates {(-21.68,70) (239.3,70)};
\addplot[dashc!70, line width=0.5pt, dash pattern=on 1.2pt off 1.2pt] coordinates {(-21.68,50) (239.3,50)};
\addplot[dashc, line width=0.5pt, dash pattern=on 1.2pt off 1.2pt] coordinates {(-21.68,30) (239.3,30)};
\addplot[draw=none, fill=cgreenl, fill opacity=0.35] table[x=d, y=v] \rsiob;
\addplot[rsisma, line width=0.8pt] table[x=d, y=v] \rsisma;
\addplot[rsiline, line width=0.6pt] table[x=d, y=v] \rsi;
\end{axis}

% ---------- Stoch RSI panel ----------
\begin{axis}[tvpanel, at={(0pt,-430pt)}, height=102pt, ymin=-4.9, ymax=110.5,
  ytick={20,40,60,80,100}, yticklabels={20.00,40.00,60.00,80.00,100.00},
  xticklabels={12,21,\textbf{2023},16,Feb,13,Mar,13,22,Apr,10,19,May,15,Jun,12,21,Jul,10,19,Aug,14,23},
  xticklabel style={yshift=-4pt}]
\addplot[draw=none, fill=stband] coordinates {(-21.68,20) (239.3,20) (239.3,80) (-21.68,80)};
\addplot[dashc, line width=0.5pt, dash pattern=on 1.2pt off 1.2pt] coordinates {(-21.68,80) (239.3,80)};
\addplot[dashc!70, line width=0.5pt, dash pattern=on 1.2pt off 1.2pt] coordinates {(-21.68,50) (239.3,50)};
\addplot[dashc, line width=0.5pt, dash pattern=on 1.2pt off 1.2pt] coordinates {(-21.68,20) (239.3,20)};
\addplot[dorange, line width=0.6pt] table[x=d, y=v] \std;
\addplot[kblue, line width=0.6pt] table[x=d, y=v] \stk;
\end{axis}

% separators
\draw[sepc, line width=0.6pt] (0pt,-322.5pt) -- (932pt,-322.5pt);
\draw[sepc, line width=0.6pt] (0pt,-428.5pt) -- (932pt,-428.5pt);

% legends
\begin{scope}[every node/.style={anchor=west, font=\sm, text=txtc, inner sep=0pt}]
\node at (2pt,-8pt) {Cardano / United States Dollar, 1D, COINBASE};
\node at (2pt,-16pt) {Vol · ADA};
\node at (2pt,-24.5pt) {EMA 8 13 21 40 55 81 + MA 50 100 200};
\node at (2pt,-33pt) {BB (20, close, 2, 0)};
\node at (2pt,-330pt) {RSI (14, close, SMA, 14, 2)};
\node at (2pt,-436pt) {Stoch RSI (3, 3, 14, 14, close)};
\node at (906pt,-7pt) {USD};
\end{scope}

% price scale labels
\begin{scope}[every node/.style={anchor=west, font=\sm, text=white, inner sep=0pt, minimum width=22pt, minimum height=8pt}]
\node[fill=hblue] at (904pt,-69pt) {0.4011};
\node[fill=hblue] at (904pt,-77.5pt) {0.3895};
\node[fill=cred] at (904pt,-86pt) {0.3774};
\node[fill=hblue] at (904pt,-94.5pt) {0.3728};
\node[fill=corange] at (904pt,-103pt) {0.3667};
\node[fill=hblue] at (904pt,-111.5pt) {0.3620};
\node[fill=black] at (904pt,-120pt) {0.3585};
\node[fill=cgreenl] at (904pt,-128.5pt) {0.3516};
\node[fill=cred] at (904pt,-137pt) {0.3514};
\node[fill=hblue] at (904pt,-145.5pt) {0.3438};
\node[fill=cred, minimum height=16pt, minimum width=25pt, align=center, font=\fontsize{5}{7.5}\selectfont] at (904pt,-161pt) {0.3333\\09:46:02};
\node[fill=lblred, minimum width=25pt] at (904pt,-302pt) {30.769M};
\node[fill=lblyellow, text=txtc] at (904pt,-382.7pt) {48.71};
\node[fill=rsiline] at (904pt,-403pt) {32.97};
\node[fill=dorange] at (904pt,-503pt) {26.76};
\node[fill=hblue] at (904pt,-524pt) {1.90};
\end{scope}
\end{tikzpicture}
\end{document}
